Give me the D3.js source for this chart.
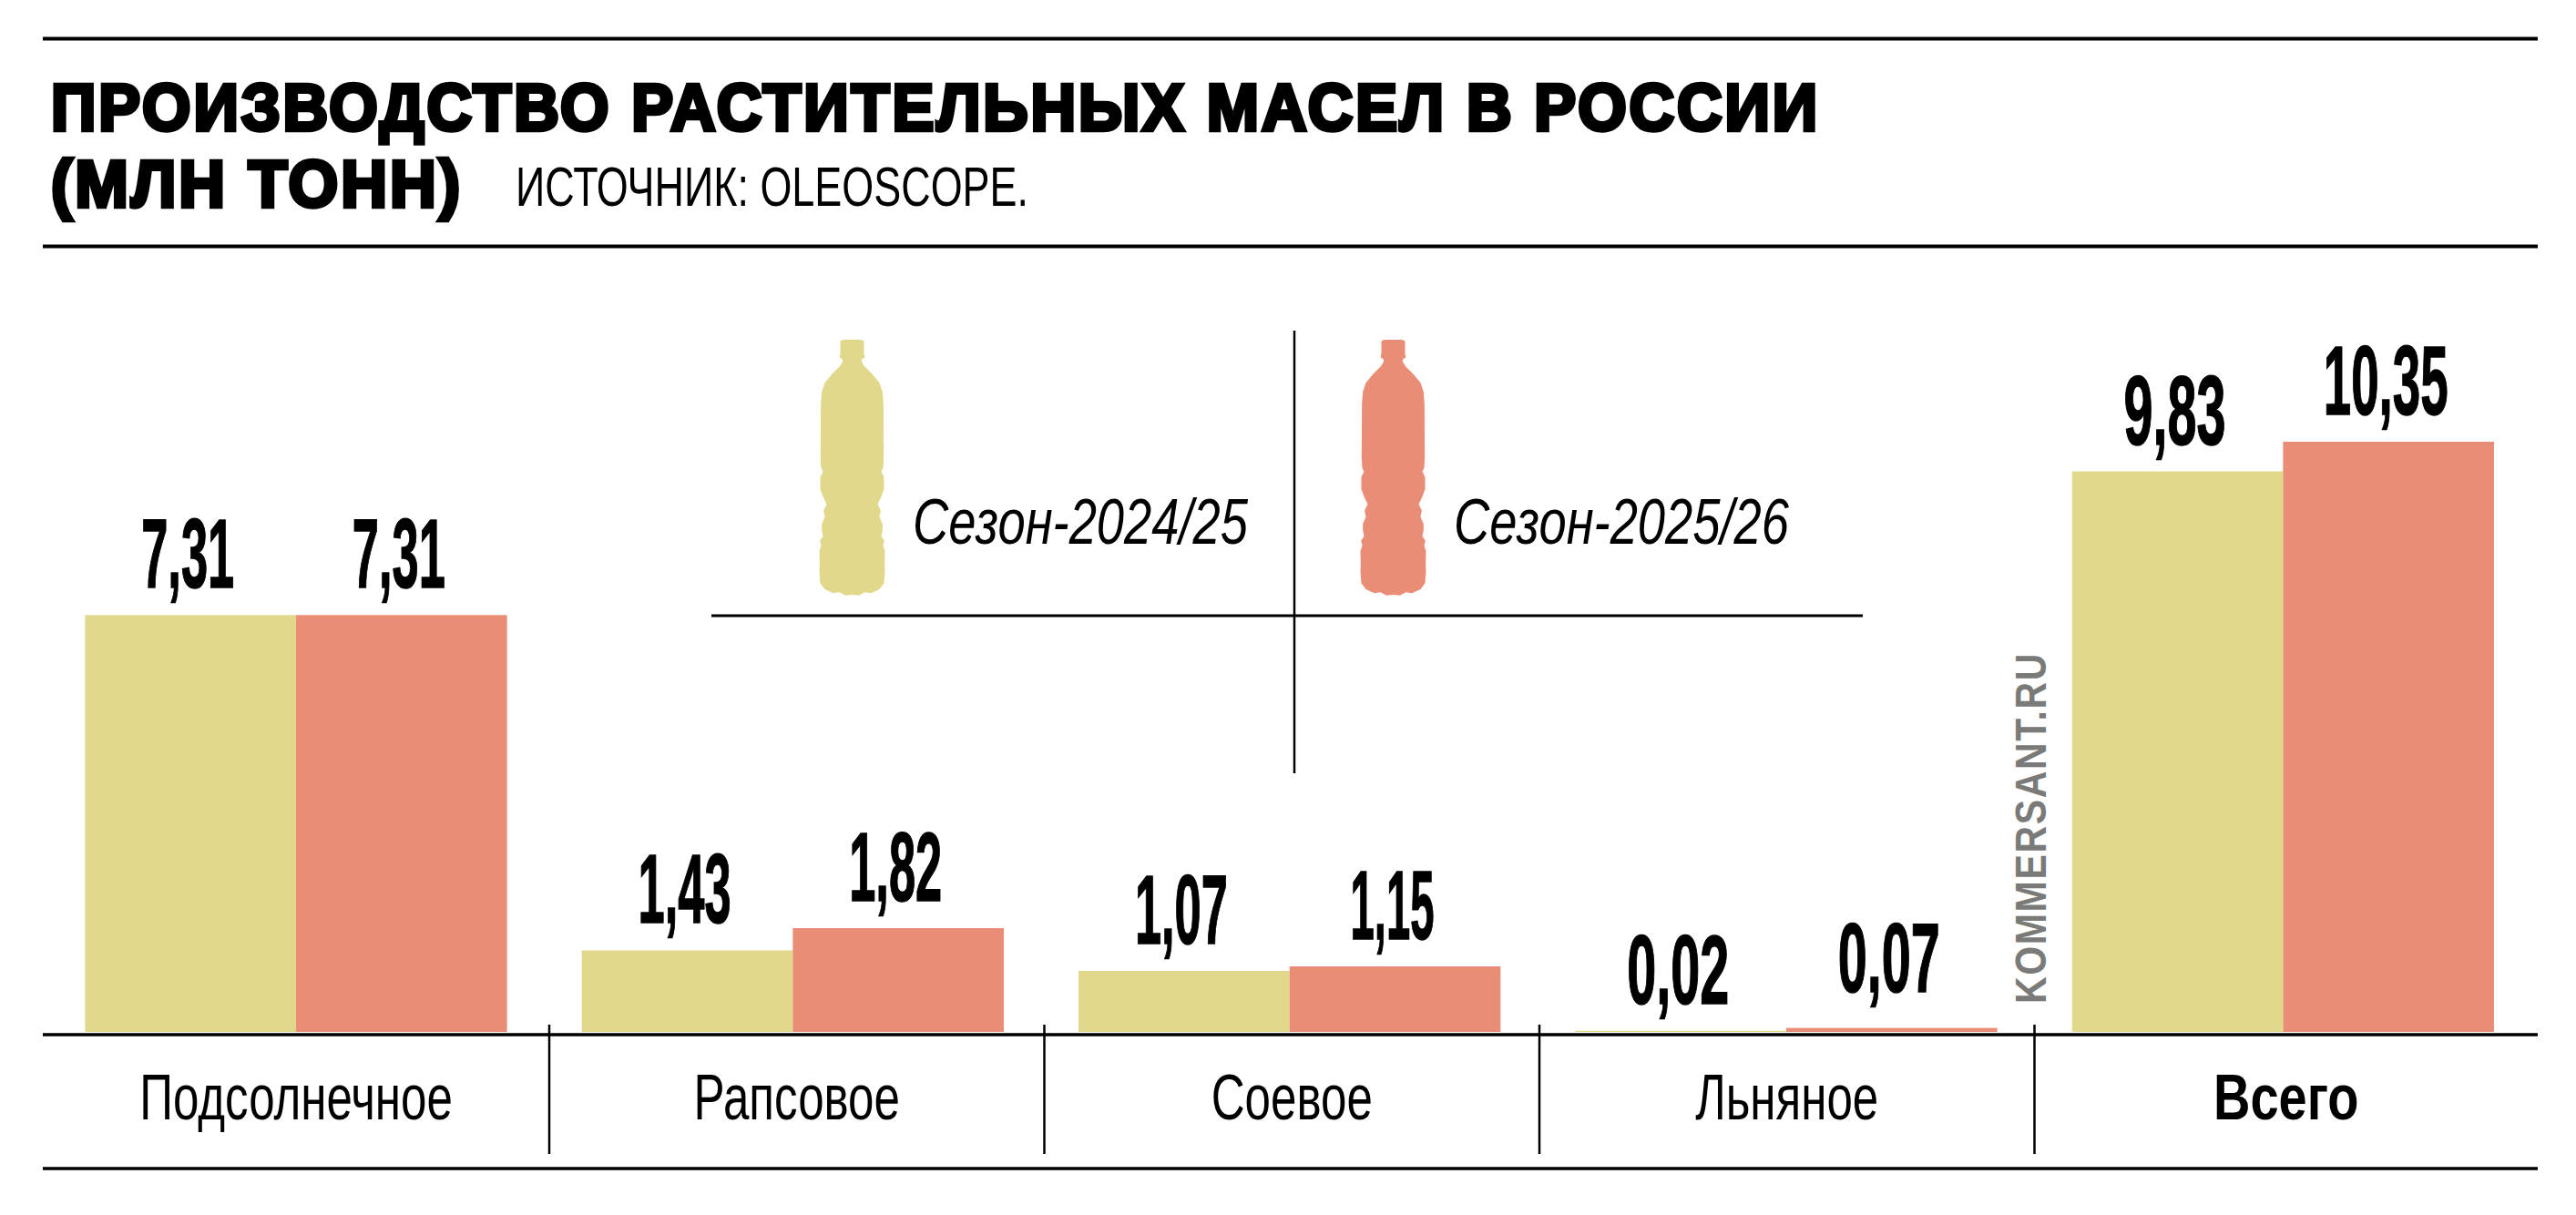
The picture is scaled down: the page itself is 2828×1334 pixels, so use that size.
<!DOCTYPE html>
<html lang="ru">
<head>
    <meta charset="UTF-8">
    <title>Производство растительных масел в России</title>
    <script src="https://d3js.org/d3.v7.min.js"></script>
    <style>
        body { margin: 0; background: #fff; }
        svg { display: block; }
        text { font-family: "Liberation Sans", sans-serif; fill: #000; }
    </style>
</head>
<body>
    <svg class="chart"></svg>
    <script>
        // Data (млн тонн)
        var categories = ["Подсолнечное", "Рапсовое", "Соевое", "Льняное", "Всего"];
        var seasons = ["Сезон-2024/25", "Сезон-2025/26"];
        var season2425 = [7.31, 1.43, 1.07, 0.02, 9.83];
        var season2526 = [7.31, 1.82, 1.15, 0.07, 10.35];
        var seasonColors = ["#e1d88b", "#ea8d76"];

        var svgWidth = 2828, svgHeight = 1334;
        var svg = d3.select(".chart").attr("width", svgWidth).attr("height", svgHeight);

        // Scales
        var x0 = d3.scaleBand().domain(categories).range([93.4, 2738]).paddingInner(0.1505);
        var x1 = d3.scaleBand().domain([0, 1]).range([0, x0.bandwidth()]);
        var y = d3.scaleLinear().domain([0, 10.35]).range([1133, 485]);
        var cell = d3.scaleBand().domain(categories).range([59.5, 2777]);
        var ruleLeft = 47, ruleRight = 2786;

        function rule(x1Pos, y1Pos, x2Pos, y2Pos, width) {
            svg.append("line")
               .attr("x1", x1Pos).attr("y1", y1Pos)
               .attr("x2", x2Pos).attr("y2", y2Pos)
               .attr("stroke", "#000").attr("stroke-width", width);
        }

        // Text squeezed horizontally, the installed fonts have no condensed cut
        function label(str, xPos, yPos, size, opts) {
            opts = opts || {};
            var t = svg.append("text")
               .attr("font-size", size)
               .attr("font-weight", opts.weight || 400)
               .attr("font-style", opts.italic ? "italic" : "normal")
               .attr("text-anchor", opts.anchor || "start")
               .attr("transform", "translate(" + xPos + "," + yPos + ") scale(" + (opts.sx || 1) + ",1)")
               .text(str);
            return t;
        }

        // The original's figures have a narrow "1", so the label width depends on its digits
        function valueWidth(str) {
            return d3.sum(str.split(""), function (c) {
                return c === "," ? 7 : c === "1" ? 25 : 35;
            });
        }

        // Header
        rule(ruleLeft, 42.5, ruleRight, 42.5, 4);
        rule(ruleLeft, 270.5, ruleRight, 270.5, 4);
        svg.append("text").attr("x", 56).attr("y", 143)
           .attr("font-size", 72).attr("font-weight", 700)
           .attr("textLength", 1942).attr("lengthAdjust", "spacingAndGlyphs")
           .style("letter-spacing", "3px")
           .style("stroke", "#000").style("stroke-width", 4.5)
           .text("ПРОИЗВОДСТВО РАСТИТЕЛЬНЫХ МАСЕЛ В РОССИИ");
        svg.append("text").attr("x", 56).attr("y", 227)
           .attr("font-size", 72).attr("font-weight", 700)
           .attr("textLength", 452).attr("lengthAdjust", "spacingAndGlyphs")
           .style("letter-spacing", "3px")
           .style("stroke", "#000").style("stroke-width", 4.5)
           .text("(МЛН ТОНН)");
        svg.append("text").attr("x", 566).attr("y", 226)
           .attr("font-size", 62)
           .attr("textLength", 563).attr("lengthAdjust", "spacingAndGlyphs")
           .text("ИСТОЧНИК: OLEOSCOPE.");

        // Bars
        var groups = svg.selectAll(".group")
            .data(categories)
            .enter().append("g")
            .attr("class", "group")
            .attr("transform", function (d) { return "translate(" + x0(d) + ",0)"; });

        [season2425, season2526].forEach(function (values, s) {
            groups.append("rect")
                .attr("x", x1(s))
                .attr("width", x1.bandwidth())
                .attr("y", function (d, i) { return y(values[i]); })
                .attr("height", function (d, i) { return y(0) - y(values[i]); })
                .attr("fill", seasonColors[s]);

            values.forEach(function (v, i) {
                // 0,07 sits a little higher than the others in the original
                var lift = (s === 1 && i === 3) ? 40 : 30;
                var str = v.toFixed(2).replace(".", ",");
                svg.append("text")
                   .attr("x", x0(categories[i]) + x1(s) + x1.bandwidth() / 2 - 3)
                   .attr("y", y(v) - lift)
                   .attr("font-size", 108).attr("font-weight", 700)
                   .attr("text-anchor", "middle")
                   .attr("textLength", valueWidth(str))
                   .attr("lengthAdjust", "spacingAndGlyphs")
                   .style("stroke", "#000").style("stroke-width", 1.5)
                   .text(str);
            });
        });

        // Axis line, dividers and category row
        rule(ruleLeft, 1136, ruleRight, 1136, 3.5);
        rule(ruleLeft, 1283, ruleRight, 1283, 3.5);
        categories.slice(1).forEach(function (c) {
            rule(cell(c), 1125, cell(c), 1267, 2.5);
        });
        categories.forEach(function (c, i) {
            var last = i === categories.length - 1;
            var left = i === 0 ? ruleLeft : cell(c);
            var right = last ? ruleRight : cell(categories[i + 1]);
            label(c, (left + right) / 2, 1229, 70,
                  { anchor: "middle", sx: last ? 0.8 : 0.73, weight: last ? 700 : 400 });
        });

        // Legend: cross lines, bottle icons, season names
        rule(1421, 363, 1421, 849, 2.5);
        rule(781, 676, 2045, 676, 3);

        // half-width of the bottle by height, in the icon's own units
        var bottleProfile = [[0, 26], [2, 36], [6, 39], [47, 39], [52, 41], [59, 41], [62, 33], [72, 31],
            [87, 40], [112, 65], [142, 90], [172, 100], [212, 103], [392, 104], [422, 102], [434, 96],
            [452, 105], [492, 105], [517, 96], [542, 84], [562, 94], [584, 90], [607, 100], [627, 100],
            [647, 96], [662, 106], [677, 102], [697, 108], [742, 107], [762, 108], [802, 105], [822, 90],
            [835, 62], [832, 42], [842, 22], [840, 0]];
        var bottleLine = d3.line().curve(d3.curveLinear);
        var bottlePath = bottleLine(
            bottleProfile.map(function (p) { return [-p[1], p[0]]; })
              .concat(bottleProfile.slice().reverse().map(function (p) { return [p[1], p[0]]; }))
        ) + "Z";

        seasons.forEach(function (name, s) {
            var bx = s === 0 ? 935.5 : 1529.5;
            svg.append("path")
               .attr("d", bottlePath)
               .attr("transform", "translate(" + bx + ",373) scale(0.3333)")
               .attr("fill", seasonColors[s]);
            svg.append("text")
               .attr("x", s === 0 ? 1002 : 1596).attr("y", 597)
               .attr("font-size", 70).attr("font-style", "italic")
               .attr("textLength", 368).attr("lengthAdjust", "spacingAndGlyphs")
               .text(name);
        });

        // Watermark
        svg.append("text")
           .attr("transform", "translate(2246,1102) rotate(-90)")
           .attr("font-size", 49).attr("font-weight", 700)
           .attr("textLength", 386).attr("lengthAdjust", "spacingAndGlyphs")
           .style("letter-spacing", "2px")
           .style("fill", "#7a7a78")
           .text("KOMMERSANT.RU");
    </script>
</body>
</html>
